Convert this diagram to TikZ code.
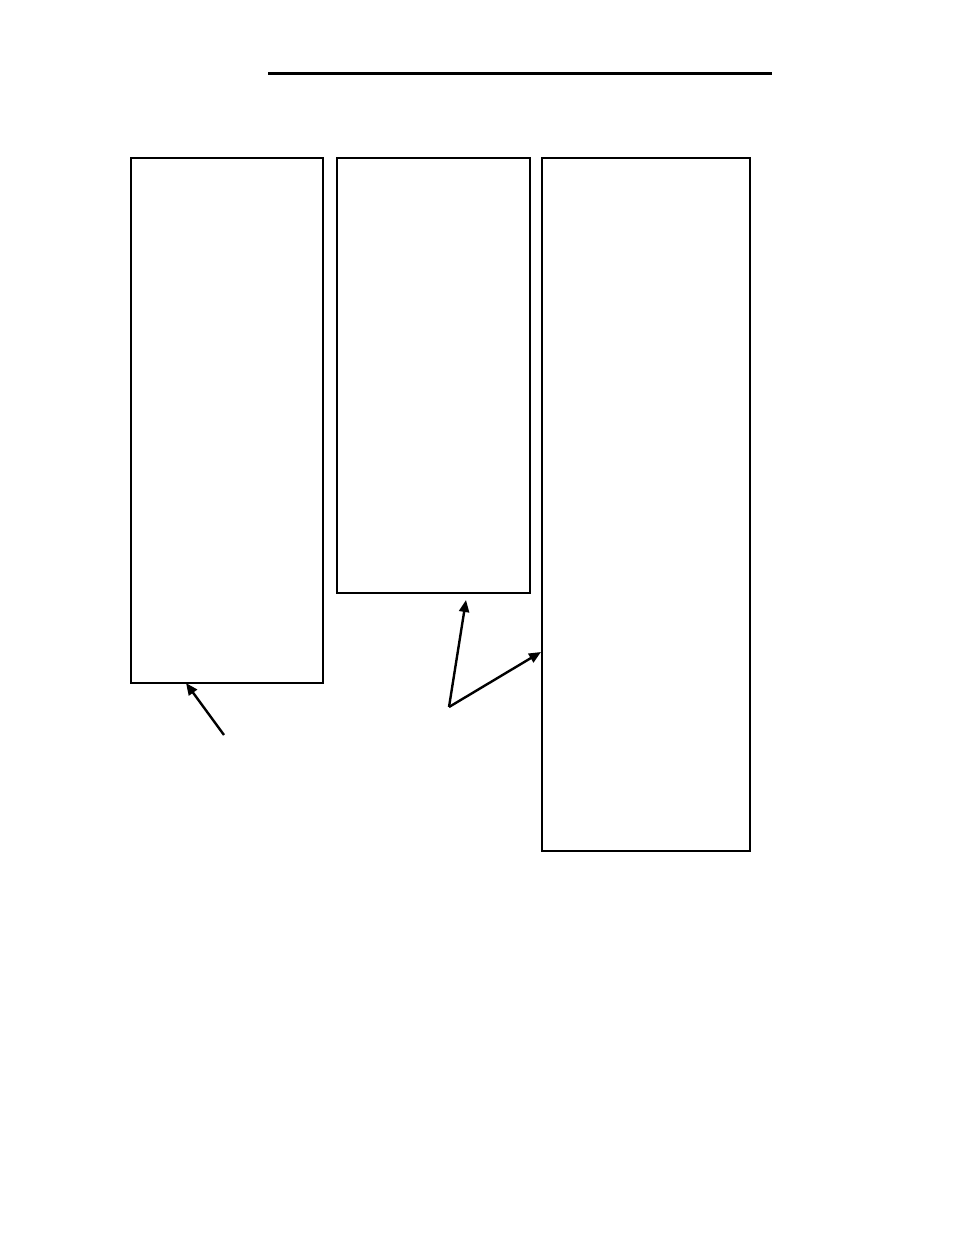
\documentclass[tikz,border=0pt]{standalone}
\usetikzlibrary{arrows.meta}
\tikzset{
  panel/.style={draw, line width=2.6pt, inner sep=0pt, outer sep=0pt},
  pointer/.style={line width=2.4pt, -{Triangle[length=12pt, width=10pt]}}
}
\begin{document}
\begin{tikzpicture}[x=1pt, y=-1pt]
  \useasboundingbox (0,0) rectangle (954,1234);
  % rule at the top
  \coordinate (ruleL) at (268,73);
  \coordinate (ruleR) at (772,73);
  \draw[line width=3pt] (ruleL) -- (ruleR);
  % the three panels
  \node[panel, minimum width=192pt, minimum height=525pt] (left) at (227,420.5) {};
  \node[panel, minimum width=193pt, minimum height=435pt] (middle) at (433.5,375.5) {};
  \node[panel, minimum width=208pt, minimum height=693pt] (right) at (646,504.5) {};
  % pointers
  \coordinate (tailA) at (224,735);
  \coordinate (tipA) at (186,683);
  \coordinate (tailB) at (449,707);
  \coordinate (tipB) at (466,600);
  \coordinate (tipC) at (541,652);
  \draw[pointer] (tailA) -- (tipA);
  \draw[pointer] (tailB) -- (tipB);
  \draw[pointer] (tailB) -- (tipC);
\end{tikzpicture}
\end{document}
